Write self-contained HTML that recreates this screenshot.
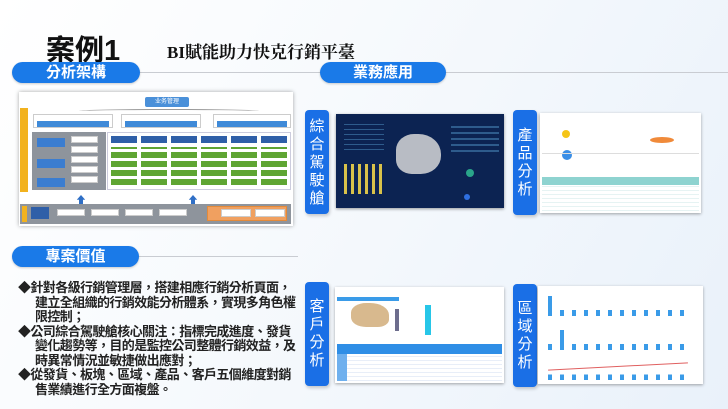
<!DOCTYPE html>
<html><head><meta charset="utf-8"><style>
*{margin:0;padding:0;box-sizing:border-box}
body{width:728px;height:409px;overflow:hidden;position:relative;font-family:"Liberation Sans","Noto Sans CJK TC",sans-serif;background:linear-gradient(120deg,#ffffff 0%,#f7fafd 40%,#e9f1fa 100%)}
.a{position:absolute}
.pill{position:absolute;height:21px;background:#1a7ae8;border-radius:11px;color:#fff;font-weight:bold;font-size:15px;text-align:center;line-height:21px;box-shadow:0 1px 2px rgba(0,0,0,.2)}
.vbar{position:absolute;width:24px;background:#1a6fe6;border-radius:4px;color:#fff;font-size:15px;text-align:center;line-height:18px;box-shadow:1px 2px 3px rgba(0,0,0,.2)}
.line{position:absolute;height:1px;background:#c9ccd2}
.bul{position:absolute;left:18px;top:281px;width:300px;font-size:13px;letter-spacing:-0.6px;font-weight:bold;line-height:14.5px;color:#222;white-space:nowrap}
.bul p{padding-left:17px;text-indent:-17px}
.w{position:absolute;background:#fff;border:1px solid #ccc}
</style></head><body>
<div class="a" style="left:46px;top:27px;font-size:29px;font-weight:bold;color:#111">案例1</div>
<div class="a" style="left:167px;top:38px;font-size:17px;font-weight:bold;color:#111;font-family:'Liberation Serif','Noto Serif CJK SC',serif">BI賦能助力快克行銷平臺</div>

<div class="line" style="left:138px;top:72px;width:590px"></div>
<div class="pill" style="left:12px;top:62px;width:128px">分析架構</div>
<div class="pill" style="left:320px;top:62px;width:126px">業務應用</div>

<div class="a" style="left:19px;top:92px;width:274px;height:134px;background:#fff;box-shadow:0 0 4px rgba(0,0,0,.35)">
 <div class="a" style="left:126px;top:5px;width:44px;height:10px;background:#4a90d9;border-radius:2px;color:#fff;font-size:6px;text-align:center;line-height:10px">业务管理</div>
 <div class="a" style="left:60px;top:17px;width:180px;height:4px;border-top:1px solid #999;border-radius:50% 50% 0 0"></div>
 <div class="w" style="left:14px;top:22px;width:80px;height:14px"><div class="a" style="left:3px;top:6px;width:72px;height:6px;background:#3f8ad8"></div></div>
 <div class="w" style="left:102px;top:22px;width:80px;height:14px"><div class="a" style="left:3px;top:6px;width:72px;height:6px;background:#3f8ad8"></div></div>
 <div class="w" style="left:194px;top:22px;width:78px;height:14px"><div class="a" style="left:3px;top:6px;width:70px;height:6px;background:#3f8ad8"></div></div>
 <div class="a" style="left:1px;top:16px;width:8px;height:84px;background:#f2b21e"></div>
 <div class="a" style="left:13px;top:40px;width:74px;height:58px;background:#8e949c"></div>
 <div class="a" style="left:18px;top:46px;width:28px;height:9px;background:#3b7dd0"></div>
 <div class="a" style="left:18px;top:67px;width:28px;height:9px;background:#3b7dd0"></div>
 <div class="a" style="left:18px;top:86px;width:28px;height:9px;background:#3b7dd0"></div>
 <div class="w" style="left:52px;top:44px;width:27px;height:7px"></div>
 <div class="w" style="left:52px;top:54px;width:27px;height:7px"></div>
 <div class="w" style="left:52px;top:64px;width:27px;height:7px"></div>
 <div class="w" style="left:52px;top:74px;width:27px;height:7px"></div>
 <div class="w" style="left:52px;top:84px;width:27px;height:7px"></div>
 <div class="a" style="left:88px;top:40px;width:184px;height:58px;border:1px solid #ccd;background:#fff"></div>
 <div class="a" style="left:92px;top:44px;width:176px;height:7px;background:repeating-linear-gradient(90deg,#2f5fa8 0 26px,transparent 26px 30px)"></div>
 <div class="a" style="left:92px;top:55px;width:176px;height:38px;background:repeating-linear-gradient(0deg,#5fa533 0 6px,transparent 6px 9px);-webkit-mask:repeating-linear-gradient(90deg,#000 0 26px,transparent 26px 30px);mask:repeating-linear-gradient(90deg,#000 0 26px,transparent 26px 30px)"></div>
 <div class="a" style="left:56px;top:100px;color:#2f6fc6;font-size:12px">⬆</div>
 <div class="a" style="left:168px;top:100px;color:#2f6fc6;font-size:12px">⬆</div>
 <div class="a" style="left:1px;top:112px;width:271px;height:20px;background:#8e949c"></div>
 <div class="a" style="left:3px;top:114px;width:5px;height:16px;background:#f2b21e"></div>
 <div class="a" style="left:12px;top:115px;width:18px;height:12px;background:#2f5fa8"></div>
 <div class="w" style="left:38px;top:117px;width:28px;height:7px"></div>
 <div class="w" style="left:72px;top:117px;width:28px;height:7px"></div>
 <div class="w" style="left:106px;top:117px;width:28px;height:7px"></div>
 <div class="w" style="left:140px;top:117px;width:28px;height:7px"></div>
 <div class="a" style="left:188px;top:114px;width:80px;height:15px;background:#f0a060;border:1px solid #e38a3a"></div>
 <div class="w" style="left:202px;top:117px;width:30px;height:8px"></div>
 <div class="w" style="left:236px;top:117px;width:30px;height:8px"></div>
</div>

<div class="vbar" style="left:305px;top:110px;height:104px;padding-top:8px">綜<br>合<br>駕<br>駛<br>艙</div>
<div class="a" style="left:336px;top:114px;width:168px;height:94px;background:#0c2352;box-shadow:0 1px 3px rgba(0,0,0,.4)">
 <div class="a" style="left:60px;top:20px;width:45px;height:40px;background:#b8bcc4;border-radius:40% 50% 45% 35%"></div>
 <div class="a" style="left:8px;top:50px;width:40px;height:30px;background:repeating-linear-gradient(90deg,#d9c24a 0 3px,transparent 3px 7px)"></div>
 <div class="a" style="left:8px;top:8px;width:40px;height:28px;background:repeating-linear-gradient(0deg,#2e5b8c 0 1px,transparent 1px 5px)"></div>
 <div class="a" style="left:115px;top:8px;width:48px;height:30px;background:repeating-linear-gradient(0deg,#2e5b8c 0 2px,transparent 2px 6px)"></div>
 <div class="a" style="left:130px;top:55px;width:8px;height:8px;border-radius:50%;background:#2aa58a"></div>
 <div class="a" style="left:128px;top:80px;width:6px;height:6px;border-radius:50%;background:#2f6fe0"></div>
</div>
<div class="vbar" style="left:513px;top:110px;height:105px;padding-top:17px">產<br>品<br>分<br>析</div>
<div class="a" style="left:540px;top:113px;width:161px;height:100px;background:#fff;box-shadow:0 1px 3px rgba(0,0,0,.35)">
 <div class="a" style="left:22px;top:17px;width:8px;height:8px;border-radius:50%;background:#f5c518"></div>
 <div class="a" style="left:22px;top:37px;width:10px;height:10px;border-radius:50%;background:#3a8ee6"></div>
 <div class="a" style="left:110px;top:24px;width:24px;height:6px;border-radius:50%;background:#f08a3a"></div>
 <div class="a" style="left:2px;top:40px;width:157px;height:1px;background:#ddd"></div>
 <div class="a" style="left:2px;top:72px;width:157px;height:26px;background:repeating-linear-gradient(0deg,#e6f3f3 0 1px,#fff 1px 4px)"></div>
 <div class="a" style="left:2px;top:64px;width:157px;height:8px;background:#8ed3d0"></div>
</div>

<div class="line" style="left:138px;top:256px;width:160px"></div>
<div class="pill" style="left:12px;top:246px;width:127px">專案價值</div>

<div class="bul">
<p>◆針對各級行銷管理層，搭建相應行銷分析頁面，<br>建立全組織的行銷效能分析體系，實現多角色權<br>限控制；</p>
<p>◆公司綜合駕駛艙核心關注：指標完成進度、發貨<br>變化趨勢等，目的是監控公司整體行銷效益，及<br>時異常情況並敏捷做出應對；</p>
<p>◆從發貨、板塊、區域、產品、客戶五個維度對銷<br>售業績進行全方面複盤。</p>
</div>

<div class="vbar" style="left:305px;top:282px;height:104px;padding-top:16px">客<br>戶<br>分<br>析</div>
<div class="a" style="left:335px;top:287px;width:169px;height:96px;background:#fff;box-shadow:0 1px 3px rgba(0,0,0,.35)">
 <div class="a" style="left:2px;top:10px;width:62px;height:4px;background:#3a9be8"></div>
 <div class="a" style="left:16px;top:16px;width:38px;height:24px;background:#d8b98e;border-radius:40% 50% 30% 40%"></div>
 <div class="a" style="left:60px;top:22px;width:4px;height:22px;background:#6d6d8d"></div>
 <div class="a" style="left:90px;top:18px;width:6px;height:30px;background:#27c6e8"></div>
 <div class="a" style="left:2px;top:57px;width:165px;height:10px;background:#2f8ee6"></div>
 <div class="a" style="left:2px;top:67px;width:10px;height:27px;background:#6fb0ee"></div>
 <div class="a" style="left:12px;top:67px;width:155px;height:27px;background:repeating-linear-gradient(0deg,#e8eef8 0 1px,#fff 1px 4px)"></div>
</div>
<div class="vbar" style="left:513px;top:284px;height:103px;padding-top:16px">區<br>域<br>分<br>析</div>
<div class="a" style="left:538px;top:286px;width:165px;height:98px;background:#fff;box-shadow:0 1px 3px rgba(0,0,0,.35)">
 <div class="a" style="left:10px;top:10px;width:140px;height:20px;background:repeating-linear-gradient(90deg,#3a9be8 0 4px,transparent 4px 12px);-webkit-mask:linear-gradient(0deg,#000 0 30%,transparent 30%);mask:linear-gradient(0deg,#000 0 30%,transparent 30%)"></div>
 <div class="a" style="left:10px;top:10px;width:4px;height:20px;background:#3a9be8"></div>
 <div class="a" style="left:10px;top:44px;width:140px;height:20px;background:repeating-linear-gradient(90deg,#3a9be8 0 4px,transparent 4px 12px);-webkit-mask:linear-gradient(0deg,#000 0 30%,transparent 30%);mask:linear-gradient(0deg,#000 0 30%,transparent 30%)"></div>
 <div class="a" style="left:22px;top:44px;width:4px;height:20px;background:#3a9be8"></div>
 <div class="a" style="left:10px;top:78px;width:140px;height:16px;background:repeating-linear-gradient(90deg,#3a9be8 0 4px,transparent 4px 12px);-webkit-mask:linear-gradient(0deg,#000 0 35%,transparent 35%);mask:linear-gradient(0deg,#000 0 35%,transparent 35%)"></div>
 <div class="a" style="left:10px;top:80px;width:140px;height:1px;background:#e06060;transform:rotate(-3deg)"></div>
</div>
</body></html>
